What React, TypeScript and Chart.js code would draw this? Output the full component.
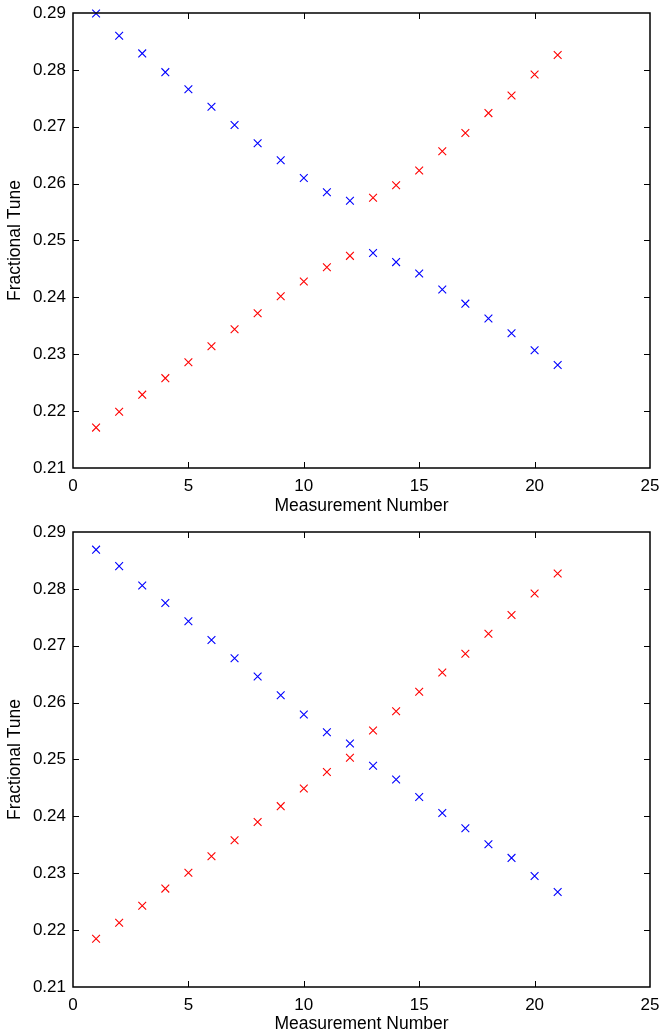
import React, { useEffect, useRef } from "react";
import { Chart, registerables } from "chart.js";

Chart.register(...registerables);

const measurement = [1, 2, 3, 4, 5, 6, 7, 8, 9, 10, 11, 12, 13, 14, 15, 16, 17, 18, 19, 20, 21];

const topBlue = [0.2899, 0.286, 0.2829, 0.2796, 0.2766, 0.2735, 0.2703, 0.2671, 0.2641, 0.261, 0.2585, 0.257, 0.2478, 0.2462, 0.2442, 0.2414, 0.2389, 0.2363, 0.2337, 0.2307, 0.2281];
const topRed = [0.2171, 0.2199, 0.2229, 0.2258, 0.2286, 0.2314, 0.2344, 0.2372, 0.2402, 0.2428, 0.2453, 0.2473, 0.2575, 0.2597, 0.2623, 0.2657, 0.2689, 0.2724, 0.2755, 0.2792, 0.2826];

const bottomBlue = [0.2869, 0.284, 0.2806, 0.2775, 0.2743, 0.271, 0.2678, 0.2646, 0.2613, 0.2579, 0.2548, 0.2528, 0.2489, 0.2465, 0.2434, 0.2406, 0.2379, 0.2351, 0.2327, 0.2295, 0.2267];
const bottomRed = [0.2185, 0.2213, 0.2243, 0.2273, 0.2301, 0.233, 0.2358, 0.239, 0.2418, 0.2449, 0.2478, 0.2503, 0.2551, 0.2585, 0.2619, 0.2653, 0.2686, 0.2721, 0.2754, 0.2792, 0.2827];

const xTicks = [0, 5, 10, 15, 20, 25];
const yTicks = [0.21, 0.22, 0.23, 0.24, 0.25, 0.26, 0.27, 0.28, 0.29];

const xTitle = "Measurement Number";
const yTitle = "Fractional Tune";

const FONT = '"Liberation Sans", Arial, Helvetica, sans-serif';

const boxPlugin = {
  id: "matlabBox",
  afterDatasetsDraw(chart: any) {
    const { ctx, chartArea } = chart;
    const xs = chart.scales.x;
    const ys = chart.scales.y;
    const { left, right, top, bottom } = chartArea;
    ctx.save();
    ctx.strokeStyle = "#000";
    ctx.lineWidth = 1;
    const tl = 6;
    ctx.beginPath();
    xs.ticks.forEach((t: any) => {
      const px = Math.round(xs.getPixelForValue(t.value)) + 0.5;
      if (px <= left + 1 || px >= right - 1) return;
      ctx.moveTo(px, bottom);
      ctx.lineTo(px, bottom - tl);
      ctx.moveTo(px, top);
      ctx.lineTo(px, top + tl);
    });
    ys.ticks.forEach((t: any) => {
      const py = Math.round(ys.getPixelForValue(t.value)) + 0.5;
      if (py <= top + 1 || py >= bottom - 1) return;
      ctx.moveTo(left, py);
      ctx.lineTo(left + tl, py);
      ctx.moveTo(right, py);
      ctx.lineTo(right - tl, py);
    });
    ctx.stroke();
    ctx.lineWidth = 1.5;
    ctx.strokeRect(left, top, right - left, bottom - top);
    ctx.restore();
  },
};

function TuneChart({ blue, red, padTop, xHeight }: { blue: number[]; red: number[]; padTop: number; xHeight: number }) {
  const ref = useRef<HTMLCanvasElement | null>(null);
  useEffect(() => {
    if (!ref.current) return;
    const mk = (vals: number[]) => measurement.map((m, i) => ({ x: m, y: vals[i] }));
    const chart = new Chart(ref.current, {
      type: "scatter",
      data: {
        datasets: [
          {
            data: mk(blue),
            pointStyle: "crossRot",
            pointRadius: 5.5,
            borderColor: "#0000ff",
            backgroundColor: "#0000ff",
            pointBorderWidth: 1.1,
            showLine: false,
            clip: false,
          } as any,
          {
            data: mk(red),
            pointStyle: "crossRot",
            pointRadius: 5.5,
            borderColor: "#ff0000",
            backgroundColor: "#ff0000",
            pointBorderWidth: 1.1,
            showLine: false,
            clip: false,
          } as any,
        ],
      },
      options: {
        animation: false,
        responsive: false,
        maintainAspectRatio: false,
        devicePixelRatio: 1,
        layout: { padding: { top: padTop, right: 10, left: 0, bottom: 0 } },
        plugins: { legend: { display: false }, tooltip: { enabled: false } },
        scales: {
          x: {
            type: "linear",
            min: 0,
            max: 25,
            grid: { display: false, drawTicks: false },
            border: { display: false },
            afterBuildTicks: (s: any) => {
              s.ticks = xTicks.map((v) => ({ value: v }));
            },
            afterFit: (s: any) => {
              s.height = xHeight;
              s.paddingLeft = 0;
              s.paddingRight = 0;
            },
            ticks: {
              padding: 8,
              color: "#000",
              font: { family: FONT, size: 17 },
              maxRotation: 0,
              autoSkip: false,
              callback: (v: any) => String(v),
            },
            title: {
              display: true,
              text: xTitle,
              color: "#000",
              font: { family: FONT, size: 17.5 },
              padding: { top: 0, bottom: 1 },
            },
          },
          y: {
            type: "linear",
            min: 0.21,
            max: 0.29,
            grid: { display: false, drawTicks: false },
            border: { display: false },
            afterBuildTicks: (s: any) => {
              s.ticks = yTicks.map((v) => ({ value: v }));
            },
            afterFit: (s: any) => {
              s.width = 73;
              s.paddingTop = 0;
              s.paddingBottom = 0;
            },
            ticks: {
              padding: 7,
              color: "#000",
              font: { family: FONT, size: 17 },
              autoSkip: false,
              callback: (v: any) => Number(v).toFixed(2),
            },
            title: {
              display: true,
              text: yTitle,
              color: "#000",
              font: { family: FONT, size: 17.5 },
              padding: { top: 5, bottom: 0 },
            },
          },
        },
      },
      plugins: [boxPlugin],
    } as any);
    return () => chart.destroy();
  }, [blue, red, padTop, xHeight]);
  return <canvas ref={ref} width={660} height={518} style={{ display: "block", width: 660, height: 518 }} />;
}

export default function App() {
  return (
    <div style={{ position: "absolute", left: 0, top: 0, width: 660, height: 1036, background: "#fff" }}>
      <TuneChart blue={topBlue} red={topRed} padTop={13} xHeight={50} />
      <TuneChart blue={bottomBlue} red={bottomRed} padTop={14} xHeight={49} />
    </div>
  );
}
